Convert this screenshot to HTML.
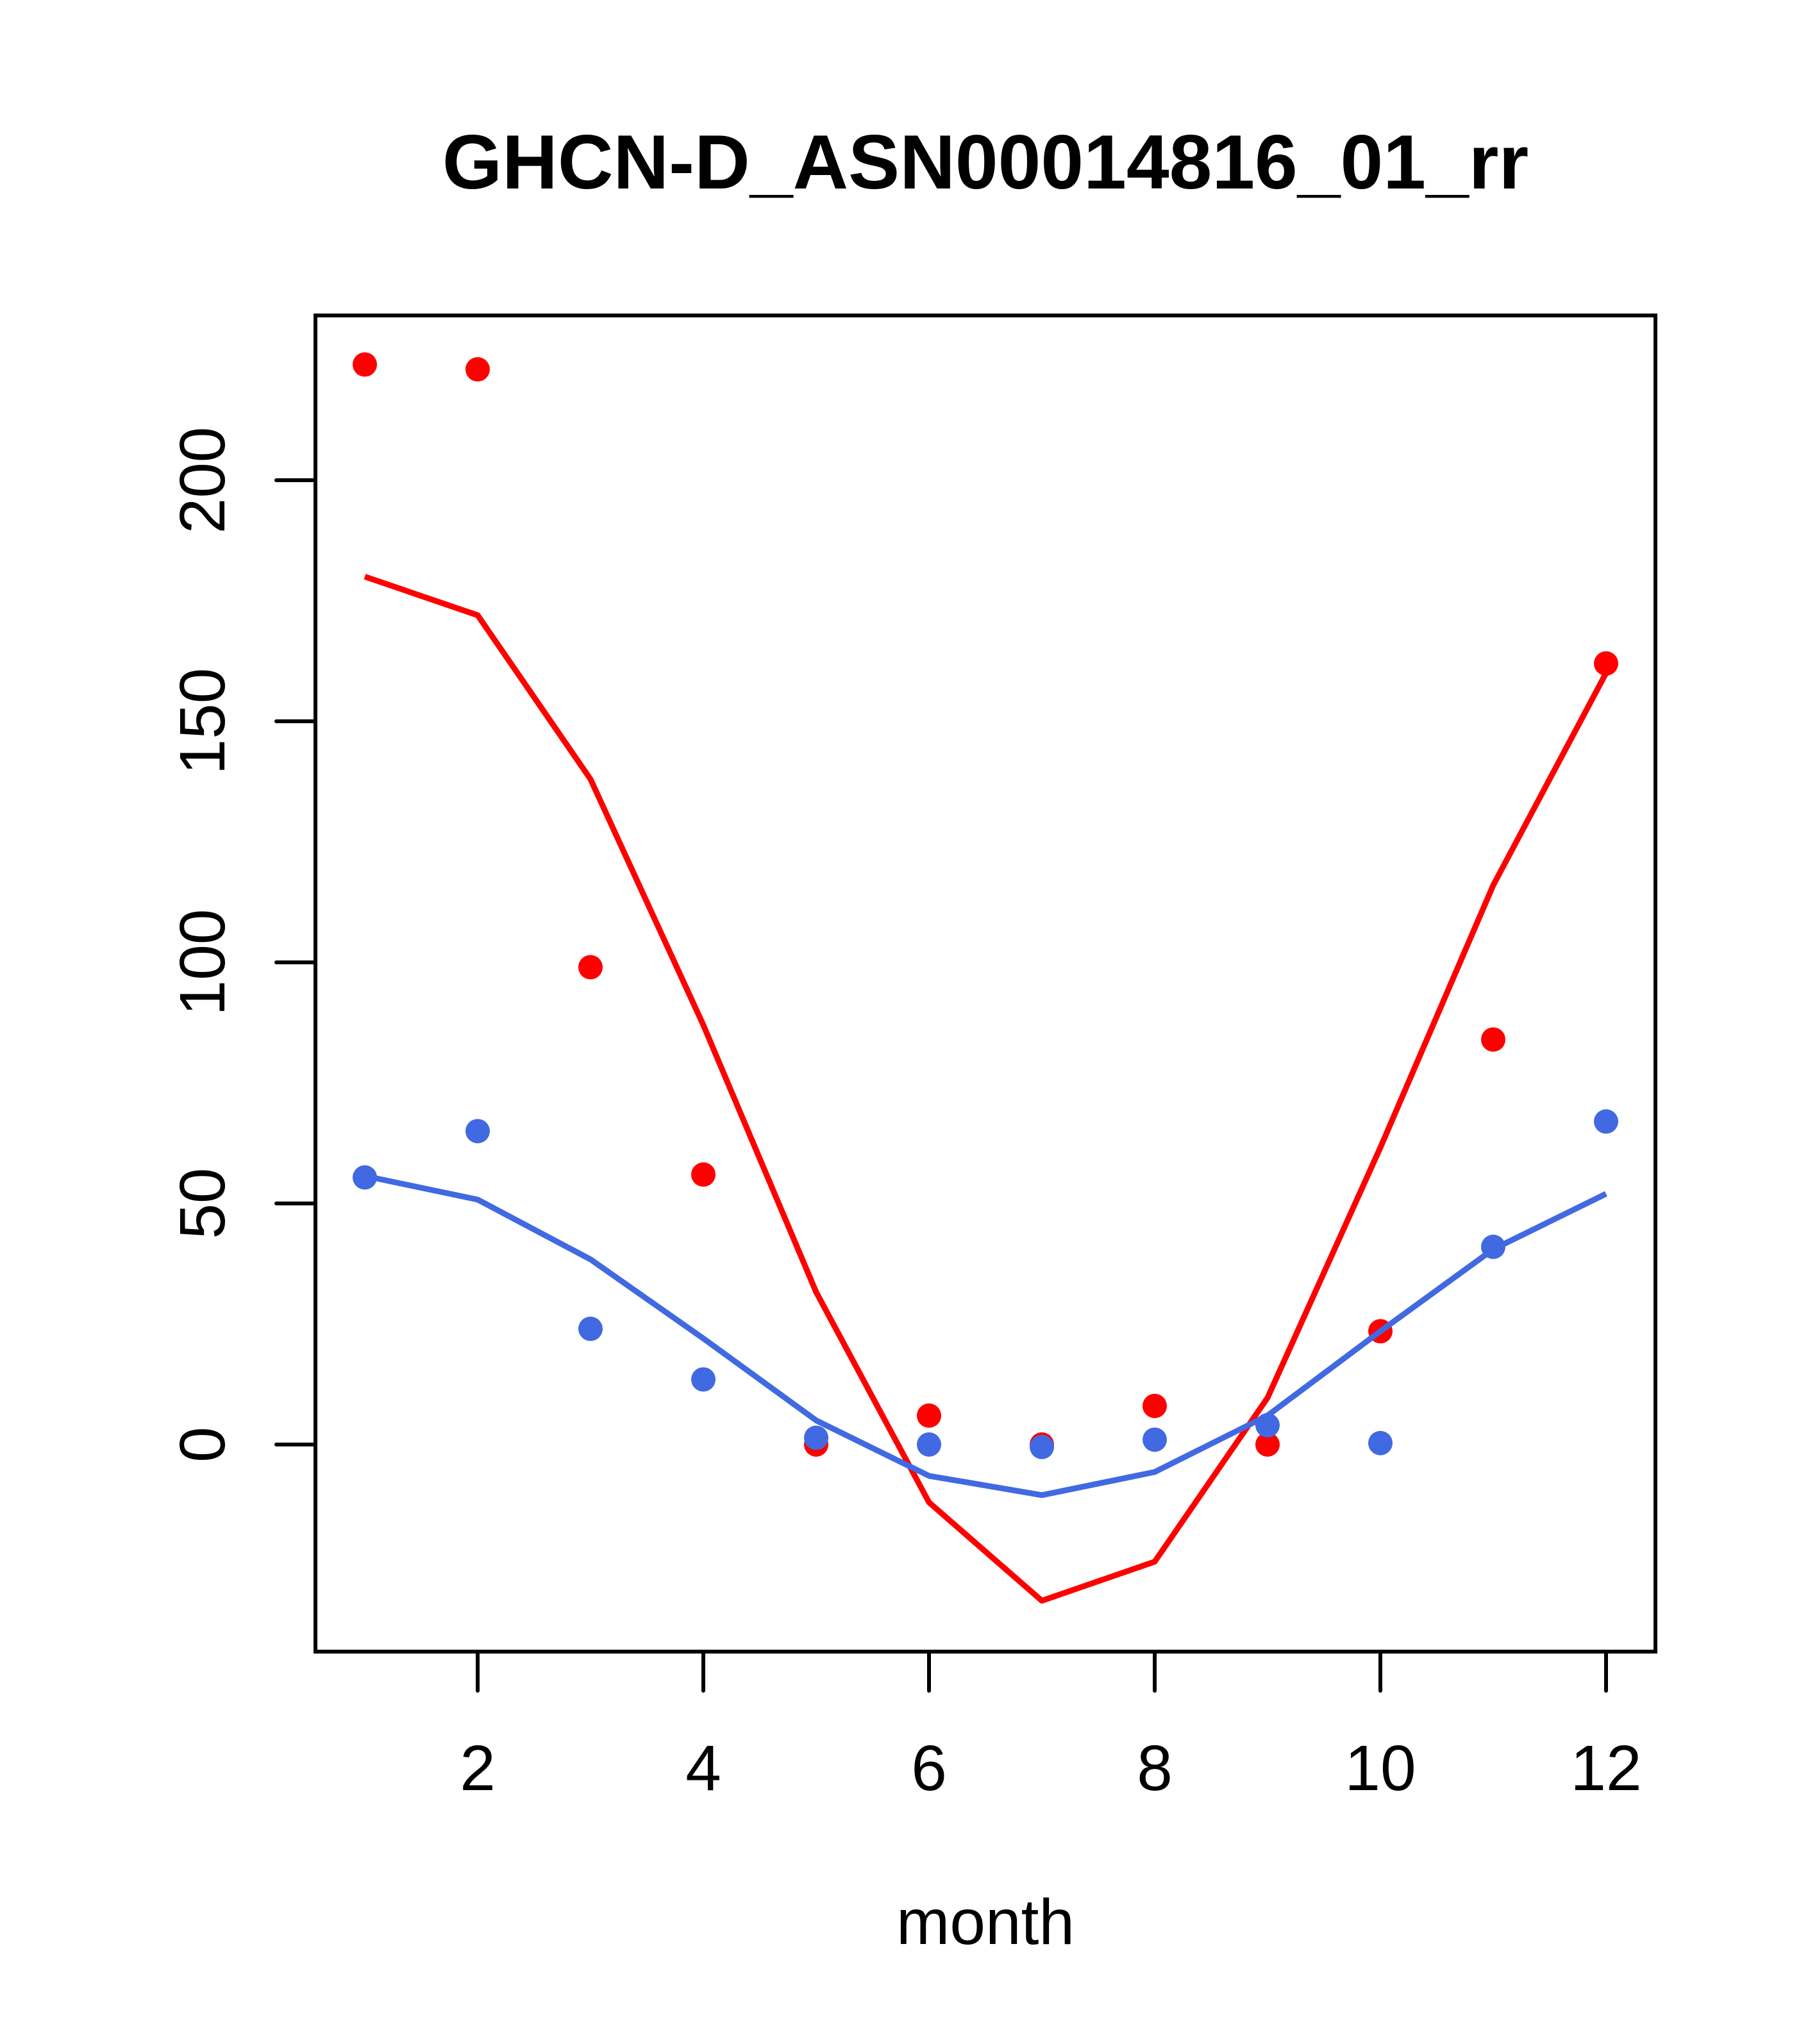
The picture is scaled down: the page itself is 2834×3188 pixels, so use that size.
<!DOCTYPE html>
<html><head><meta charset="utf-8"><style>html,body{margin:0;padding:0;background:#fff}svg{display:block}</style></head>
<body>
<svg id="chart" width="2834" height="3188" xmlns="http://www.w3.org/2000/svg" font-family="Liberation Sans, sans-serif">
<rect width="2834" height="3188" fill="#fff"/>
<text x="1537" y="294" font-size="120" font-weight="bold" text-anchor="middle">GHCN-D_ASN00014816_01_rr</text>
<text x="1537" y="3032" font-size="100" text-anchor="middle">month</text>
<rect x="492" y="492" width="2090" height="2084" fill="none" stroke="#000" stroke-width="6"/>
<g id="axes"></g>
<g id="marks"></g>
</svg>
<script>
const months = [1,2,3,4,5,6,7,8,9,10,11,12];
const redPoints = [224,223,99,56,0,6,0,8,0,23.5,84,162];
const redLine = [180,172,138,87,31.6,-12,-32.4,-24.3,9.7,61.6,116,160];
const bluePoints = [55.4,65,24,13.5,1.4,0,-0.5,1,4,0.3,41,67];
const blueLine = [55.7,50.8,38.4,22,5,-6.5,-10.5,-5.7,6,23.5,40.5,52];
const xTicks = [2,4,6,8,10,12];
const yTicks = [0,50,100,150,200];

const NS = "http://www.w3.org/2000/svg";
function xs(m){ return 569 + 176*(m-1); }
function ys(v){ return 2253 - 7.52*v; }
function mk(tag, attrs, parent){
  const e = document.createElementNS(NS, tag);
  for (const k in attrs) e.setAttribute(k, attrs[k]);
  parent.appendChild(e);
  return e;
}
const axes = document.getElementById('axes');
const marks = document.getElementById('marks');
xTicks.forEach(t => {
  const l = mk('line', {x1:xs(t), x2:xs(t), y1:2576, y2:2637, stroke:'#000','stroke-width':6,'stroke-linecap':'round'}, axes);
  
  
  const tx = mk('text', {x:xs(t), y:2792, 'font-size':100, 'text-anchor':'middle'}, axes);
  tx.textContent = t;
  
  
});
yTicks.forEach(t => {
  const l = mk('line', {x1:431, x2:492, y1:ys(t), y2:ys(t), stroke:'#000','stroke-width':6,'stroke-linecap':'round'}, axes);
  
  
  const tx = mk('text', {x:0, y:0, 'font-size':100, 'text-anchor':'middle', transform:'translate(350,'+ys(t)+') rotate(-90)'}, axes);
  tx.textContent = t;
  
  
});
function line(vals, color, name){
  const p = mk('polyline', {points: vals.map((v,i)=>xs(months[i])+','+ys(v)).join(' '), fill:'none', stroke:color, 'stroke-width':9, 'stroke-linejoin':'round'}, marks);
  
  
}
function pts(vals, color, name){
  vals.forEach((v,i) => {
    const c = mk('circle', {cx:xs(months[i]), cy:ys(v), r:19, fill:color}, marks);
    
    
  });
}
pts(redPoints, '#ff0000', 'red-point');
line(redLine, '#ff0000', 'red-line');
pts(bluePoints, '#4169e1', 'blue-point');
line(blueLine, '#4169e1', 'blue-line');
</script>
</body></html>
